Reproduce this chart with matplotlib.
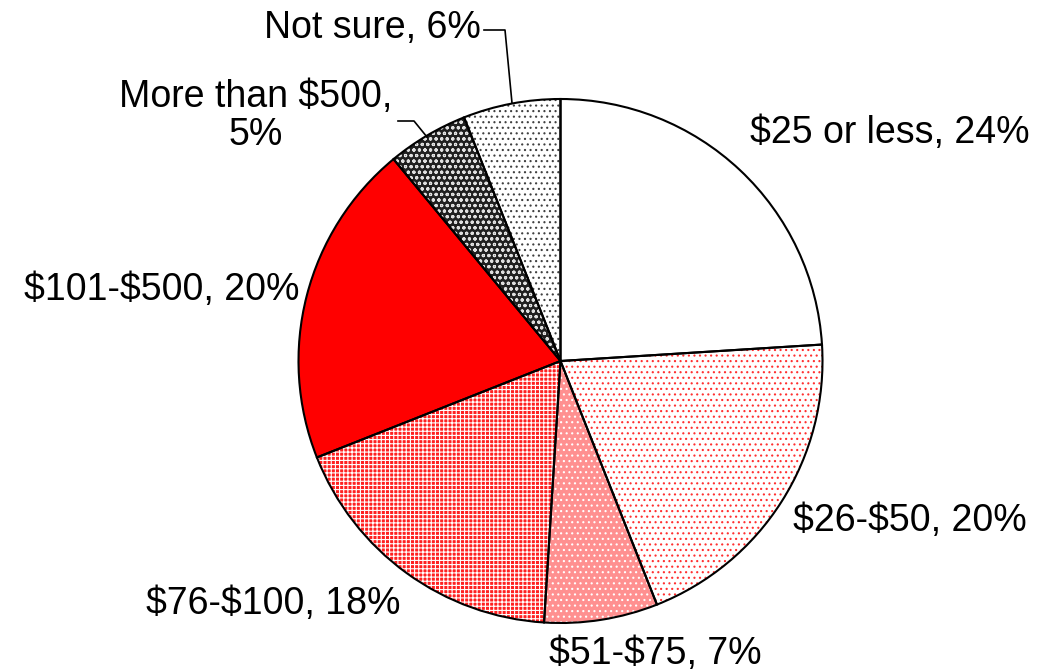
import matplotlib.pyplot as plt

# data
labels = ['$25 or less', '$26-$50', '$51-$75', '$76-$100',
          '$101-$500', 'More than $500', 'Not sure']
values = [24, 20, 7, 18, 20, 5, 6]

face_colors = ['white', 'white', '#ff9090', '#ff2020', '#ff0000', '#202020', 'white']
hatch_colors = ['white', '#ff3030', 'white', 'white', '#ff0000', '#e0e0e0', '#404040']
hatches = [None, '...', '...', '++++', None, 'ooo', '...']

plt.rcParams['font.family'] = ['Liberation Sans', 'DejaVu Sans']
plt.rcParams['text.parse_math'] = False
plt.rcParams['hatch.linewidth'] = 0.8

fig = plt.figure(figsize=(10.41, 6.71), dpi=100)
ax = fig.add_axes([0, 0, 1, 1])

H = 671
cx, cy, r = 560.5, H - 361, 262

# first pass: fills and hatches
wedges, _ = ax.pie(values, startangle=90, counterclock=False,
                   center=(cx, cy), radius=r, frame=True,
                   wedgeprops=dict(linewidth=0))
for w, fc, hc, h in zip(wedges, face_colors, hatch_colors, hatches):
    w.set_facecolor(fc)
    w.set_edgecolor(hc)
    if h:
        w.set_hatch(h)

# second pass: black outlines
ax.pie(values, startangle=90, counterclock=False, center=(cx, cy),
       radius=r, frame=True,
       wedgeprops=dict(fill=False, edgecolor='black', linewidth=1.5))
ax.set_xlim(0, 1041)
ax.set_ylim(0, 671)
ax.set_aspect('equal')
ax.axis('off')

fs = 27
txt = [f'{l}, {v}%' for l, v in zip(labels, values)]
ax.text(750, H - 133, txt[0], fontsize=fs, ha='left', va='center')
ax.text(793, H - 521, txt[1], fontsize=fs, ha='left', va='center')
ax.text(549, H - 654, txt[2], fontsize=fs, ha='left', va='center')
ax.text(400, H - 604, txt[3], fontsize=fs, ha='right', va='center')
ax.text(299, H - 290, txt[4], fontsize=fs, ha='right', va='center')
ax.text(256, H - 116, f'{labels[5]},\n{values[5]}%', fontsize=fs,
        ha='center', va='center', linespacing=1.1)
ax.text(481, H - 28, txt[6], fontsize=fs, ha='right', va='center')

# leader lines
ax.plot([398, 414, 427], [H - 121, H - 121, H - 137], color='black', lw=1.2)
ax.plot([484, 505, 512], [H - 30, H - 30, H - 103], color='black', lw=1.2)

fig.savefig('out.png', dpi=100)
